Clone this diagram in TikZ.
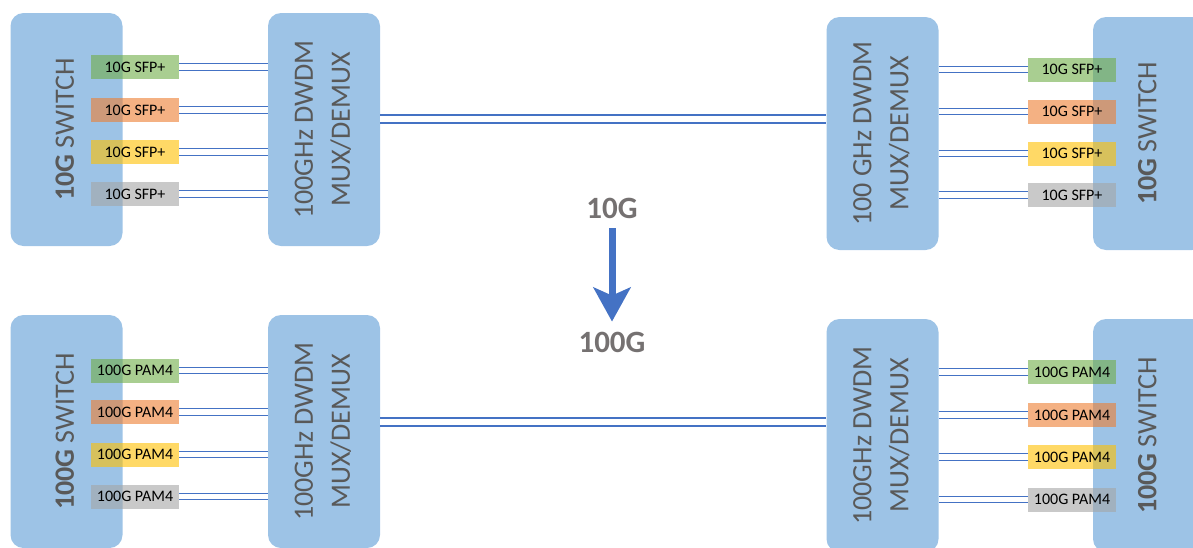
\documentclass[tikz,border=0pt]{standalone}
\usepackage{fontspec}
\setmainfont{Carlito}
\usepackage{tikz}
\usetikzlibrary{arrows.meta}
\definecolor{boxblue}{HTML}{9DC3E6}
\definecolor{linkblue}{HTML}{4472C4}
\definecolor{textgray}{HTML}{595959}
\definecolor{labelgray}{HTML}{757171}
\definecolor{sfpgreen}{HTML}{70AD47}
\definecolor{sfporange}{HTML}{ED7D31}
\definecolor{sfpyellow}{HTML}{FFC000}
\definecolor{sfpgray}{HTML}{A5A5A5}
\tikzset{>={Stealth[length=34pt,width=37pt,inset=8pt]}}
\tikzset{
  bigbox/.style={fill=boxblue, rounded corners=13pt, minimum width=112pt,
    minimum height=233pt, inner sep=0pt, text=textgray,
    font=\fontsize{28}{37}\selectfont},
  sfpbox/.style={minimum width=88pt, minimum height=24pt, inner sep=0pt,
    fill opacity=.6, text opacity=1, font=\fontsize{16}{18}\selectfont},
  fibre/.style={draw=linkblue, line width=1.3pt, double=white, double distance=5.2pt},
  trunk/.style={draw=linkblue, line width=1.3pt, double=white, double distance=6.7pt},
  rate/.style={inner sep=0pt, text=labelgray, font=\fontsize{31}{33}\selectfont\bfseries}
}
\newcommand{\vtext}[1]{\rotatebox{90}{\begin{tabular}{@{}c@{}}#1\end{tabular}}}

\begin{document}
\begin{tikzpicture}[x=1pt,y=-1pt]
    \useasboundingbox (0,0) rectangle (1193,547);
    \clip (0,0) rectangle (1193,547);

    % 10G link
    \node[bigbox] (sw1) at (66.5,129.5) {\vtext{\textbf{10G} SWITCH}};
    \node[bigbox] (mux1) at (324,129.5) {\vtext{100GHz DWDM\\MUX/DEMUX}};
    \node[bigbox] (mux2) at (882.5,133.5) {\vtext{100 GHz DWDM\\MUX/DEMUX}};
    \node[bigbox] (sw2) at (1149,133.5) {\vtext{\textbf{10G} SWITCH}};

    \node[sfpbox, fill=sfpgreen]  (a1) at (135,67)  {10G SFP+};
    \node[sfpbox, fill=sfporange] (a2) at (135,110) {10G SFP+};
    \node[sfpbox, fill=sfpyellow] (a3) at (135,152) {10G SFP+};
    \node[sfpbox, fill=sfpgray]   (a4) at (135,194) {10G SFP+};

    \node[sfpbox, fill=sfpgreen]  (b1) at (1072,69.5)  {10G SFP+};
    \node[sfpbox, fill=sfporange] (b2) at (1072,111.5) {10G SFP+};
    \node[sfpbox, fill=sfpyellow] (b3) at (1072,153.5) {10G SFP+};
    \node[sfpbox, fill=sfpgray]   (b4) at (1072,195)   {10G SFP+};

    \draw[fibre] (a1.east) -- (a1.east -| mux1.west);
    \draw[fibre] (a2.east) -- (a2.east -| mux1.west);
    \draw[fibre] (a3.east) -- (a3.east -| mux1.west);
    \draw[fibre] (a4.east) -- (a4.east -| mux1.west);

    \draw[fibre] (b1.west -| mux2.east) -- (b1.west);
    \draw[fibre] (b2.west -| mux2.east) -- (b2.west);
    \draw[fibre] (b3.west -| mux2.east) -- (b3.west);
    \draw[fibre] (b4.west -| mux2.east) -- (b4.west);

    \draw[trunk] ([yshift=10.5pt]mux1.east) -- ([yshift=10.5pt]mux1.east -| mux2.west);

    % 100G link
    \node[bigbox] (sw3) at (66.5,431.5) {\vtext{\textbf{100G} SWITCH}};
    \node[bigbox] (mux3) at (324,431.5) {\vtext{100GHz DWDM\\MUX/DEMUX}};
    \node[bigbox] (mux4) at (882.5,435.5) {\vtext{100GHz DWDM\\MUX/DEMUX}};
    \node[bigbox] (sw4) at (1149,435.5) {\vtext{\textbf{100G} SWITCH}};

    \node[sfpbox, fill=sfpgreen]  (c1) at (135,370.5) {100G PAM4};
    \node[sfpbox, fill=sfporange] (c2) at (135,412)   {100G PAM4};
    \node[sfpbox, fill=sfpyellow] (c3) at (135,454.5) {100G PAM4};
    \node[sfpbox, fill=sfpgray]   (c4) at (135,496.5) {100G PAM4};

    \node[sfpbox, fill=sfpgreen]  (d1) at (1072,372)   {100G PAM4};
    \node[sfpbox, fill=sfporange] (d2) at (1072,415)   {100G PAM4};
    \node[sfpbox, fill=sfpyellow] (d3) at (1072,457)   {100G PAM4};
    \node[sfpbox, fill=sfpgray]   (d4) at (1072,499.5) {100G PAM4};

    \draw[fibre] (c1.east) -- (c1.east -| mux3.west);
    \draw[fibre] (c2.east) -- (c2.east -| mux3.west);
    \draw[fibre] (c3.east) -- (c3.east -| mux3.west);
    \draw[fibre] (c4.east) -- (c4.east -| mux3.west);

    \draw[fibre] (d1.west -| mux4.east) -- (d1.west);
    \draw[fibre] (d2.west -| mux4.east) -- (d2.west);
    \draw[fibre] (d3.west -| mux4.east) -- (d3.west);
    \draw[fibre] (d4.west -| mux4.east) -- (d4.west);

    \draw[trunk] ([yshift=9.5pt]mux3.east) -- ([yshift=9.5pt]mux3.east -| mux4.west);

    % upgrade arrow
    \node[rate] (r10) at (612,208) {10G};
    \node[rate] (r100) at (612,342) {100G};
    \draw[->, draw=linkblue, line width=7pt, shorten <=10pt, shorten >=10pt] (r10.south) -- (r100.north);
\end{tikzpicture}
\end{document}
